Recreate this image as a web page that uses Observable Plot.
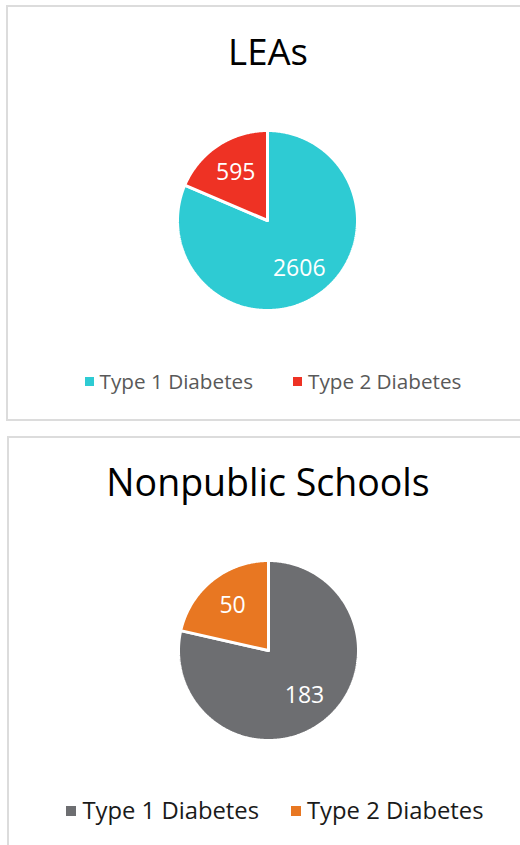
<!DOCTYPE html>
<html>
<head>
<meta charset="utf-8">
<script src="https://cdn.jsdelivr.net/npm/d3@7"></script>
<script src="https://cdn.jsdelivr.net/npm/@observablehq/plot@0.6"></script>
<style>
  html, body { margin: 0; padding: 0; background: #fff; }
  body { width: 520px; height: 845px; position: relative; overflow: hidden; font-family: "Open Sans", sans-serif; }
  .panel { position: absolute; border: 2px solid #dcdcdc; box-sizing: border-box; background: #fff; }
  .title { position: absolute; left: 8px; width: 520px; text-align: center; color: #000; white-space: nowrap; line-height: 1; }
  .legend { position: absolute; left: 0; width: 520px; display: flex; justify-content: center; white-space: nowrap; line-height: 1; box-sizing: border-box; }
  .item { display: flex; align-items: center; }
  .sw { display: inline-block; }
  .pie { position: absolute; }
</style>
</head>
<body>
<script>
// ---- data ----
const categories = ["Type 1 Diabetes", "Type 2 Diabetes"];
const leaValues = [2606, 595];
const nonpublicValues = [183, 50];
const titles = ["LEAs", "Nonpublic Schools"];
const leaColors = ["#2ECBD3", "#EE3224"];
const nonpublicColors = ["#6D6E71", "#E87722"];

function piePlot(values, colors) {
  const rows = categories.map((c, i) => ({key: c, value: values[i]}));
  const arcs = d3.pie().sort(null).value(d => d.value)(rows);
  const poly = [];
  const labels = [];
  for (const a of arcs) {
    const n = Math.max(2, Math.ceil((a.endAngle - a.startAngle) / 0.01));
    poly.push({key: a.data.key, px: 0, py: 0});
    for (let k = 0; k <= n; k++) {
      const t = a.startAngle + (a.endAngle - a.startAngle) * k / n;
      poly.push({key: a.data.key, px: Math.sin(t), py: Math.cos(t)});
    }
    poly.push({key: a.data.key, px: 0, py: 0});
    const m = (a.startAngle + a.endAngle) / 2;
    labels.push({key: a.data.key, value: a.data.value, px: 0.64 * Math.sin(m), py: 0.64 * Math.cos(m)});
  }
  return Plot.plot({
    width: 200, height: 200,
    margin: 10,
    x: {domain: [-1, 1], axis: null},
    y: {domain: [-1, 1], axis: null},
    color: {domain: categories, range: colors},
    marks: [
      Plot.line(poly, {x: "px", y: "py", z: "key", fill: "key", stroke: "#fff", strokeWidth: 3, strokeLinejoin: "miter"}),
      Plot.text(labels, {x: "px", y: "py", text: d => String(d.value), fill: "#fff", fontSize: 23, fontFamily: "Open Sans"})
    ]
  });
}

function panel(cfg) {
  const p = document.createElement("div");
  p.className = "panel";
  Object.assign(p.style, cfg.box);
  document.body.appendChild(p);

  const t = document.createElement("div");
  t.className = "title";
  t.textContent = cfg.title;
  Object.assign(t.style, {top: cfg.titleTop + "px", fontSize: cfg.titleSize + "px"});
  document.body.appendChild(t);

  const svg = piePlot(cfg.values, cfg.colors);
  svg.classList.add("pie");
  Object.assign(svg.style, {left: (cfg.cx - 100) + "px", top: (cfg.cy - 100) + "px"});
  document.body.appendChild(svg);

  const lg = document.createElement("div");
  lg.className = "legend";
  Object.assign(lg.style, {top: cfg.legendTop + "px", fontSize: cfg.legendSize + "px", color: cfg.legendColor, gap: cfg.legendGap + "px", left: cfg.legendShift + "px"});
  categories.forEach((c, i) => {
    const it = document.createElement("div");
    it.className = "item";
    const sw = document.createElement("span");
    sw.className = "sw";
    Object.assign(sw.style, {width: cfg.sw + "px", height: cfg.sw + "px", background: cfg.colors[i], marginRight: cfg.swGap + "px"});
    const tx = document.createElement("span");
    tx.textContent = c;
    it.appendChild(sw); it.appendChild(tx);
    lg.appendChild(it);
  });
  document.body.appendChild(lg);
}

panel({
  box: {left: "6px", top: "5px", width: "530px", height: "416px"},
  title: titles[0], titleTop: 33, titleSize: 36.5,
  values: leaValues, colors: leaColors, cx: 267, cy: 220,
  legendTop: 371, legendSize: 20.7, legendColor: "#595959", legendGap: 40, legendShift: 13,
  sw: 9, swGap: 6
});
panel({
  box: {left: "7px", top: "436px", width: "530px", height: "420px"},
  title: titles[1], titleTop: 463, titleSize: 37.5,
  values: nonpublicValues, colors: nonpublicColors, cx: 268, cy: 650,
  legendTop: 799, legendSize: 23.8, legendColor: "#1a1a1a", legendGap: 32, legendShift: 15,
  sw: 10, swGap: 6
});
</script>
</body>
</html>
